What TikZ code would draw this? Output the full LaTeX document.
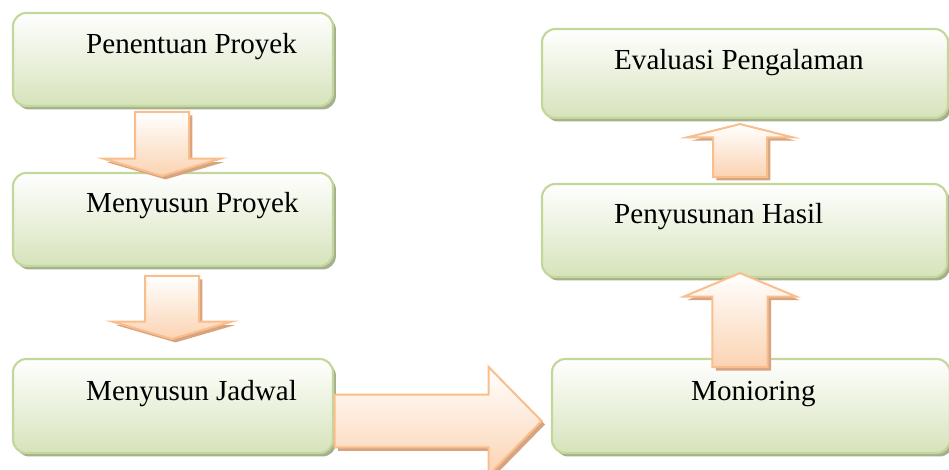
\documentclass[tikz,border=0pt]{standalone}
\usepackage{fontspec}
\setmainfont{Liberation Serif}
\usetikzlibrary{shapes.arrows,shadows}
\definecolor{boxline}{RGB}{195,214,155}
\definecolor{boxfill}{RGB}{214,227,187}
\definecolor{boxshade}{RGB}{165,176,140}
\definecolor{arrline}{RGB}{250,190,140}
\definecolor{arrfill}{RGB}{251,211,178}
\definecolor{arrshade}{RGB}{214,164,128}
\tikzset{kotak/.style = {rectangle, rounded corners=10pt, line width=1.6pt, draw=boxline,
                         top color=white, bottom color=boxfill, inner sep=0pt,
                         drop shadow={shadow xshift=2.2pt, shadow yshift=-2.6pt, fill=boxshade, opacity=1}},
           teks/.style = {inner sep=0pt, anchor=base west, font=\fontsize{21.8}{26}\selectfont},
           panah/.style = {single arrow, line width=1.5pt, draw=arrline, inner xsep=0pt,
                           anchor=tip, single arrow head indent=0pt,
                           top color=white, bottom color=arrfill,
                           drop shadow={shadow xshift=2.6pt, shadow yshift=-2.6pt, fill=arrshade, opacity=1}},
           turun/.style = {panah, rotate=-90},
           naik/.style = {panah, rotate=90},
           kanan/.style = {panah}}

\begin{document}
\begin{tikzpicture}[x=0.75pt, y=-0.75pt]
    \useasboundingbox (0,0) rectangle (949,470);
    % kolom kiri
    \node[kotak, minimum width=240pt, minimum height=69.75pt] (pen) at (173,59.5) {};
    \node[kotak, minimum width=240pt, minimum height=69.75pt] (mp) at (173,219.5) {};
    \node[kotak, minimum width=240pt, minimum height=70.5pt] (mj) at (173,406) {};
    % kolom kanan
    \node[kotak, minimum width=304.5pt, minimum height=66.75pt] (eva) at (745,73.5) {};
    \node[kotak, minimum width=303.75pt, minimum height=69.75pt] (hsl) at (744.5,230.5) {};
    \node[kotak, minimum width=298.5pt, minimum height=70.5pt] (mon) at (751,406) {};
    \node[teks] (tpen) at ([shift={(74,42)}]pen.north west) {Penentuan Proyek};
    \node[teks] (tmp) at ([shift={(74,41)}]mp.north west) {Menyusun Proyek};
    \node[teks] (tmj) at ([shift={(74,43)}]mj.north west) {Menyusun Jadwal};
    \node[teks] (teva) at ([shift={(73,42)}]eva.north west) {Evaluasi Pengalaman};
    \node[teks] (thsl) at ([shift={(73,41)}]hsl.north west) {Penyusunan Hasil};
    \node[teks] (tmon) at ([shift={(140,43)}]mon.north west) {Monioring};
    % panah
    \node[turun, inner ysep=19.5pt, minimum height=48pt, minimum width=86.25pt,
          single arrow head extend=23.6pt, single arrow tip angle=147.1] (a1) at (162,177) {};
    \node[turun, inner ysep=19.5pt, minimum height=47.25pt, minimum width=87.75pt,
          single arrow head extend=24.4pt, single arrow tip angle=147.6] (a2) at (172,340) {};
    \node[kanan, inner ysep=19.1pt, minimum height=155.25pt, minimum width=79.5pt,
          single arrow head extend=20.6pt, single arrow tip angle=91.1] (a3) at (543,421) {};
    \node[naik, inner ysep=19.9pt, minimum height=70.5pt, minimum width=82.5pt,
          single arrow head extend=21.4pt, single arrow tip angle=134.6] (a4) at (740,272) {};
    \node[naik, inner ysep=19.5pt, minimum height=39.75pt, minimum width=77.25pt,
          single arrow head extend=19.1pt, single arrow tip angle=151.7] (a5) at (740,123) {};
\end{tikzpicture}
\end{document}
